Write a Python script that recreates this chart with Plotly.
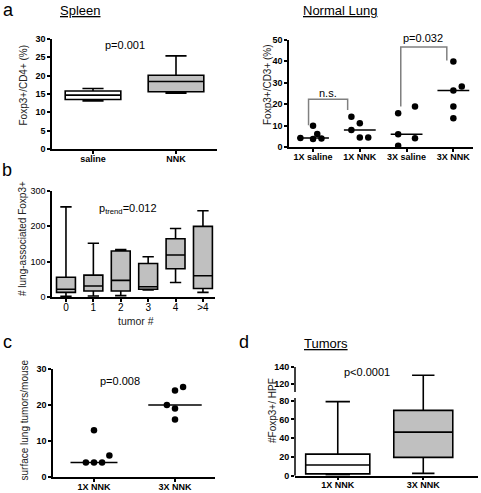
import numpy as np
import plotly.graph_objects as go

W, H = 481, 493
FONT = "Arial, Liberation Sans, sans-serif"
GRAY = "#c0c0c0"

# ---------------- data ----------------
# a: Spleen (box stats)
spleen_cats = ["saline", "NNK"]
spleen_low = [13.1, 15.2]
spleen_q1 = [13.5, 15.6]
spleen_med = [14.7, 18.4]
spleen_q3 = [15.8, 20.1]
spleen_high = [16.5, 25.4]
spleen_fill = ["white", GRAY]

# Normal lung (dot plot)
lung_cats = ["1X saline", "1X NNK", "3X saline", "3X NNK"]
lung_1x_saline = [10.0, 6.2, 4.3, 3.8, 4.1]
lung_1x_nnk = [14.2, 11.2, 8.0, 4.6, 4.6]
lung_3x_saline = [15.8, 18.9, 6.0, 4.2, 0.7]
lung_3x_nnk = [39.8, 28.2, 26.3, 18.9, 13.5]

# b: tumor # vs lung-associated Foxp3+
tumor_cats = ["0", "1", "2", "3", "4", ">4"]
tumor_low = [2, 3, 4, 20, 41, 13]
tumor_q1 = [13, 17, 17, 22, 80, 24]
tumor_med = [22, 31, 47, 29, 119, 60]
tumor_q3 = [56, 62, 130, 95, 165, 200]
tumor_high = [255, 152, 134, 114, 194, 244]

# c: surface lung tumors/mouse
c_cats = ["1X NNK", "3X NNK"]
c_1x = [13, 6, 4, 4, 4]
c_3x = [24, 25, 20, 19, 16]

# d: Tumors (#Foxp3+/HPF) box stats
d_cats = ["1X NNK", "3X NNK"]
d_low = [1, 2.5]
d_q1 = [2, 19.5]
d_med = [11.4, 46.5]
d_q3 = [23, 69.7]
d_high = [79, 130]
d_fill = ["white", GRAY]
d_ticks = [0, 20, 40, 60, 80, 120, 140]

# ---------------- helpers ----------------
def px(x):
    return x / W

def py(y):
    return 1 - y / H

def axis_style(**kw):
    d = dict(showline=True, linecolor="black", linewidth=1.5, ticks="outside",
             ticklen=3, tickwidth=1.5, tickcolor="black", showgrid=False,
             zeroline=False, fixedrange=True, automargin=False,
             tickfont=dict(family=FONT, size=9, color="black", weight="bold"))
    d.update(kw)
    return d

def xaxis_style(**kw):
    return axis_style(ticklabelstandoff=-3, **kw)

fig = go.Figure()

def add_box(xa, ya, xpos, lo, q1, med, q3, hi, fill, width, ww):
    fig.add_trace(go.Box(x=[xpos], lowerfence=[lo], q1=[q1], median=[med], q3=[q3],
                         upperfence=[hi], width=width, whiskerwidth=ww,
                         fillcolor=fill, line=dict(color="black", width=1.6),
                         xaxis=xa, yaxis=ya, showlegend=False, hoverinfo="skip"))

def add_dots(xa, ya, xpos, vals, offs, half):
    fig.add_trace(go.Scatter(x=[xpos + o for o in offs], y=vals, mode="markers",
                             marker=dict(color="black", size=6.5), xaxis=xa, yaxis=ya,
                             showlegend=False, hoverinfo="skip", cliponaxis=False))
    m = float(np.median(vals))
    fig.add_trace(go.Scatter(x=[xpos - half, xpos + half], y=[m, m], mode="lines",
                             line=dict(color="black", width=1.5), xaxis=xa, yaxis=ya,
                             showlegend=False, hoverinfo="skip"))

# ---------------- panel a ----------------
for i in range(2):
    add_box("x", "y", i, spleen_low[i], spleen_q1[i], spleen_med[i], spleen_q3[i],
            spleen_high[i], spleen_fill[i], 0.67, 0.38)

# ---------------- normal lung ----------------
lung_groups = [lung_1x_saline, lung_1x_nnk, lung_3x_saline, lung_3x_nnk]
lung_offs = [[0, 0.09, -0.27, 0, 0.18],
             [-0.18, 0, -0.18, 0, 0.18],
             [-0.18, 0.18, -0.18, 0.18, -0.18],
             [0, 0.18, 0, 0, 0]]
for i, g in enumerate(lung_groups):
    add_dots("x2", "y2", i, g, lung_offs[i], 0.34)

# ---------------- panel b ----------------
for i in range(len(tumor_cats)):
    add_box("x3", "y3", i, tumor_low[i], tumor_q1[i], tumor_med[i], tumor_q3[i],
            tumor_high[i], GRAY, 0.69, 0.6)

# ---------------- panel c ----------------
add_dots("x4", "y4", 0, c_1x, [0, 0.19, -0.1, 0, 0.1], 0.29)
add_dots("x4", "y4", 1, c_3x, [0, 0.1, -0.1, 0, 0], 0.33)

# ---------------- panel d (broken axis) ----------------
BRK_LO, BRK_HI, GAP, SCALE_UP = 83.0, 110.0, 6.4, 0.885

def dmap(v):
    return v if v <= BRK_LO else BRK_LO + GAP + (v - BRK_HI) * SCALE_UP

d_widths = [0.75, 0.69]
for i in range(2):
    add_box("x5", "y5", i, dmap(d_low[i]), dmap(d_q1[i]), dmap(d_med[i]), dmap(d_q3[i]),
            dmap(d_high[i]), d_fill[i], d_widths[i], 0.38)

# ---------------- layout ----------------
layout = dict(
    width=W, height=H, margin=dict(l=0, r=0, t=0, b=0, autoexpand=False),
    paper_bgcolor="white", plot_bgcolor="rgba(0,0,0,0)", showlegend=False,
    font=dict(family=FONT, color="black"),
    xaxis=xaxis_style(domain=[px(52), px(217)], anchor="y", range=[-0.494, 1.494],
                      tickvals=[0, 1], ticktext=spleen_cats),
    yaxis=axis_style(domain=[py(149), py(39)], anchor="x", range=[0, 30],
                     tickvals=[0, 5, 10, 15, 20, 25, 30]),
    xaxis2=xaxis_style(domain=[px(289), px(473)], anchor="y2", range=[-0.514, 3.42],
                       tickvals=[0, 1, 2, 3], ticktext=lung_cats),
    yaxis2=axis_style(domain=[py(147.3), py(39.5)], anchor="x2", range=[0, 50],
                      tickvals=[0, 10, 20, 30, 40, 50]),
    xaxis3=xaxis_style(domain=[px(52), px(215)], anchor="y3", range=[-0.51, 5.44],
                       tickvals=list(range(6)), ticktext=tumor_cats,
                       tickfont=dict(family=FONT, size=10, color="black")),
    yaxis3=axis_style(domain=[py(297), py(191)], anchor="x3", range=[0, 300],
                      tickvals=[0, 100, 200, 300],
                      tickfont=dict(family=FONT, size=9, color="black")),
    xaxis4=xaxis_style(domain=[px(53), px(215)], anchor="y4", range=[-0.506, 1.494],
                       tickvals=[0, 1], ticktext=c_cats),
    yaxis4=axis_style(domain=[py(477), py(369)], anchor="x4", range=[0, 30],
                      tickvals=[0, 10, 20, 30]),
    xaxis5=xaxis_style(domain=[px(295), px(478)], anchor="y5", range=[-0.5, 1.64],
                       tickvals=[0, 1], ticktext=d_cats),
    yaxis5=axis_style(domain=[py(475.7), py(367)], anchor="x5", showline=False,
                      range=[0, dmap(140)], tickvals=[dmap(v) for v in d_ticks],
                      ticktext=[str(v) for v in d_ticks]),
)
fig.update_layout(**layout)

# broken y-axis segments for panel d
for y0, y1 in [(0, BRK_LO), (dmap(BRK_HI), dmap(140))]:
    fig.add_shape(type="line", xref="x5 domain", yref="y5", x0=0, x1=0, y0=y0, y1=y1,
                  line=dict(color="black", width=1.5))

# significance brackets in normal lung panel
brackets = [(-0.096, 0.74, 22.3, 10.2, 17.3), (1.876, 2.86, 46.5, 18.9, 40.3)]
for xl, xr, top, bl, br in brackets:
    fig.add_shape(type="path", xref="x2", yref="y2",
                  path=f"M {xl},{bl} L {xl},{top} L {xr},{top} L {xr},{br}",
                  line=dict(color="#808080", width=1.5))

def ann(text, x, y, size, angle=0, color="black", **kw):
    fig.add_annotation(text=text, x=px(x), y=py(y), xref="paper", yref="paper",
                       showarrow=False, textangle=angle, xanchor="center",
                       yanchor="middle", font=dict(family=FONT, size=size, color=color), **kw)

# panel letters
ann("a", 8, 10, 18)
ann("b", 7, 170, 18)
ann("c", 7, 342, 18)
ann("d", 244, 342, 18)
# titles
ann("<u>Spleen</u>", 80, 10, 13)
ann("<u>Normal Lung</u>", 340, 10, 13)
ann("<u>Tumors</u>", 326, 343, 13)
# p values
ann("p=0.001", 125, 45, 11)
ann("n.s.", 328, 93, 11)
ann("p=0.032", 423, 38, 11)
ann("p<sub>trend</sub>=0.012", 128, 209, 11)
ann("p=0.008", 120, 381, 11)
ann("p<0.0001", 367, 372, 11)
# axis titles
ann("Foxp3+/CD4+ (%)", 22.5, 85, 10, -90, "#222")
ann("Foxp3+/CD3+ (%)", 267, 85, 10, -90, "#222")
ann("# lung-associated Foxp3+", 23, 239, 10, -90, "#222")
ann("tumor #", 136, 321, 10.5, 0, "#222")
ann("surface lung tumors/mouse", 23.5, 420, 10, -90, "#222")
ann("#Foxp3+/ HPF", 272, 411, 10, -90, "#222")

fig.write_html("out.html", config={"displayModeBar": False},
               post_script="document.body.style.margin='0';document.body.style.padding='0';")
